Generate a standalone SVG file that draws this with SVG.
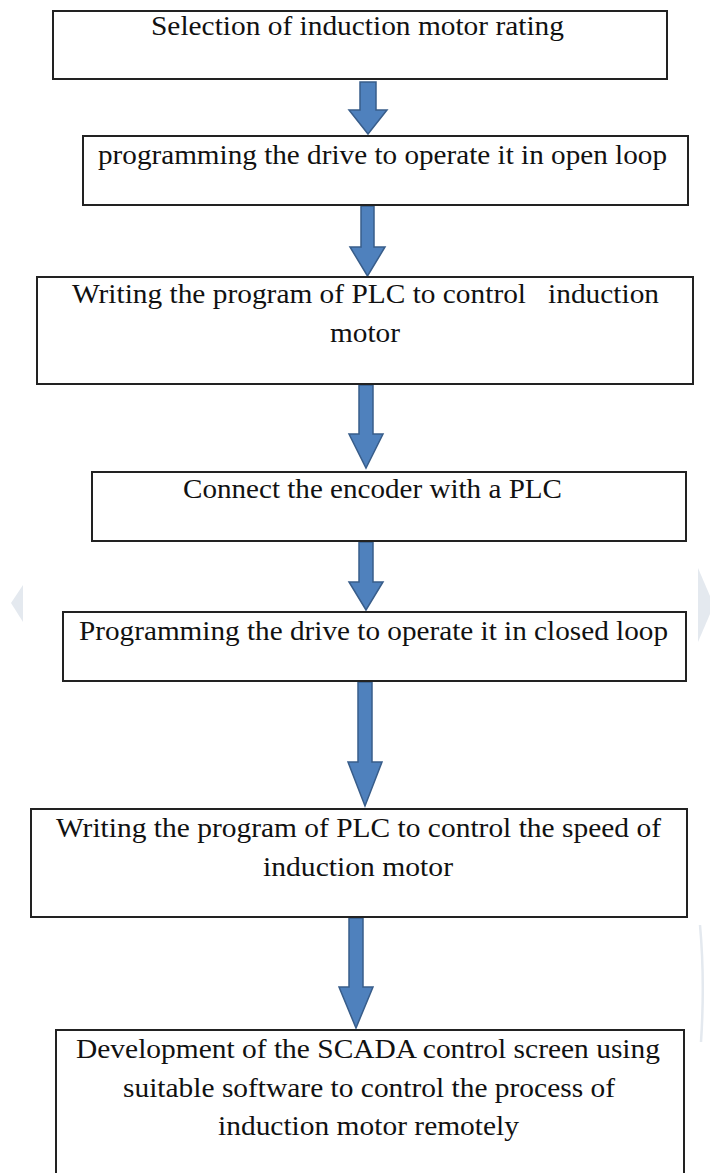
<svg xmlns="http://www.w3.org/2000/svg" width="710" height="1173" viewBox="0 0 710 1173">
<style>
.box{fill:#ffffff;stroke:#222222;stroke-width:2}
.lbl{font-family:"Liberation Serif","Times New Roman",serif;font-size:28px;fill:#111111}
.arr{fill:#4F81BD;stroke:#385D8A;stroke-width:1.5;stroke-linejoin:miter}
.wm{fill:#e4e9ef;stroke:none}
</style>
<rect width="710" height="1173" fill="#ffffff"/>
<g id="watermark">
<polygon class="wm" points="23,585 11,603 23,622"/>
<polygon class="wm" points="698,568 710,596 710,614 698,642"/>
<path d="M700,925 Q705,980 701,1042" fill="none" stroke="#e4e9ef" stroke-width="2.5"/>
</g>
<g id="connectors">
<path class="arr" d="M360,82 H376 V110 H387 L368,134 L349,110 H360 Z"/>
<path class="arr" d="M361,206 H374 V247 H385 L367.5,276 L350,247 H361 Z"/>
<path class="arr" d="M359,385 H373 V434 H383 L366,468 L349,434 H359 Z"/>
<path class="arr" d="M359,542 H373 V582 H383 L366,610 L349,582 H359 Z"/>
<path class="arr" d="M358,682 H372 V762 H382 L365,806 L348,762 H358 Z"/>
<path class="arr" d="M349,918 H363 V987 H373 L356,1028 L339,987 H349 Z"/>
</g>
<g id="node1">
<rect class="box" x="53" y="11" width="614" height="68"/>
<text class="lbl" x="151" y="35" textLength="413" lengthAdjust="spacingAndGlyphs">Selection of induction motor rating</text>
</g>
<g id="node2">
<rect class="box" x="83" y="136" width="605" height="69"/>
<text class="lbl" x="98" y="164" textLength="569" lengthAdjust="spacingAndGlyphs">programming the drive to operate it in open loop</text>
</g>
<g id="node3">
<rect class="box" x="37" y="277" width="656" height="107"/>
<text class="lbl" x="72" y="303" textLength="587" lengthAdjust="spacingAndGlyphs" xml:space="preserve" style="white-space:pre">Writing the program of PLC to control   induction</text>
<text class="lbl" x="330" y="342" textLength="70" lengthAdjust="spacingAndGlyphs">motor</text>
</g>
<g id="node4">
<rect class="box" x="92" y="472" width="594" height="69"/>
<text class="lbl" x="183" y="498" textLength="379" lengthAdjust="spacingAndGlyphs">Connect the encoder with a PLC</text>
</g>
<g id="node5">
<rect class="box" x="63" y="612" width="623" height="69"/>
<text class="lbl" x="79" y="640" textLength="589" lengthAdjust="spacingAndGlyphs">Programming the drive to operate it in closed loop</text>
</g>
<g id="node6">
<rect class="box" x="31" y="809" width="656" height="108"/>
<text class="lbl" x="56" y="837" textLength="605" lengthAdjust="spacingAndGlyphs">Writing the program of PLC to control the speed of</text>
<text class="lbl" x="263" y="876" textLength="190" lengthAdjust="spacingAndGlyphs">induction motor</text>
</g>
<g id="node7">
<rect class="box" x="56" y="1030" width="628" height="160"/>
<text class="lbl" x="76" y="1058" textLength="584" lengthAdjust="spacingAndGlyphs">Development of the SCADA control screen using</text>
<text class="lbl" x="123" y="1097" textLength="492" lengthAdjust="spacingAndGlyphs">suitable software to control the process of</text>
<text class="lbl" x="218" y="1135" textLength="301" lengthAdjust="spacingAndGlyphs">induction motor remotely</text>
</g>
</svg>
